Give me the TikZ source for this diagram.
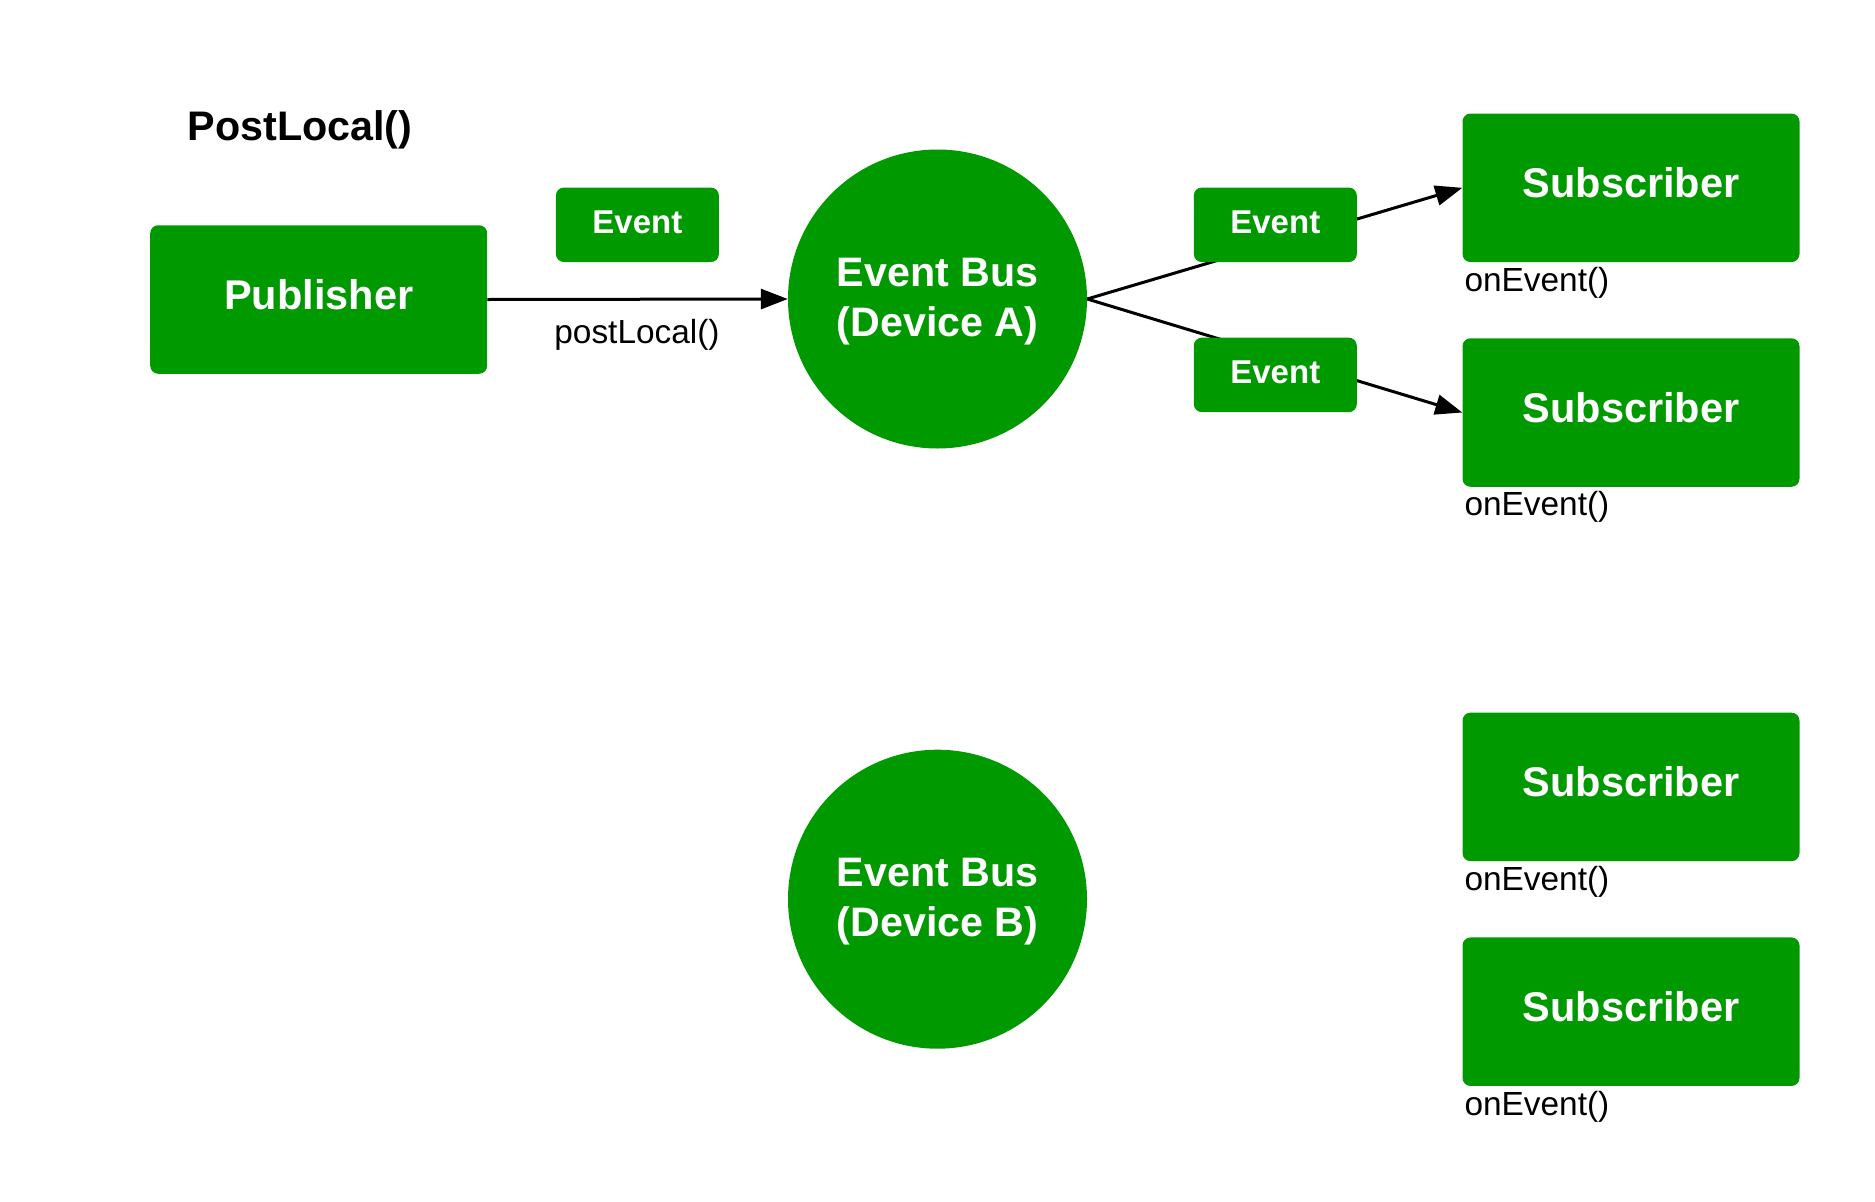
\documentclass[tikz,border=0pt]{standalone}
\usepackage{fontspec}
\setmainfont{Liberation Sans}
\usetikzlibrary{arrows.meta}
\definecolor{busgreen}{RGB}{0,153,0}
\pgfdeclarelayer{background}
\pgfsetlayers{background,main}
\newcommand{\buslabel}[2]{\raisebox{0pt}[\dimexpr\height+5pt\relax][\depth]{\begin{tabular}{@{}c@{}}#1\\#2\end{tabular}}}
\tikzset{
  box/.style={rectangle, rounded corners=8pt, fill=busgreen, text=white, inner sep=0pt,
    font=\bfseries\fontsize{41.5}{50}\selectfont},
  bigbox/.style={box, minimum width=337pt, minimum height=148.5pt, text depth=10pt},
  evbox/.style={box, minimum width=163pt, minimum height=74.5pt, text depth=5pt,
    font=\bfseries\fontsize{33}{40}\selectfont},
  bus/.style={circle, fill=busgreen, text=white, minimum size=299pt, inner sep=0pt,
    font=\bfseries\fontsize{41.2}{50}\selectfont},
  lbl/.style={inner sep=0pt, font=\fontsize{33.4}{40}\selectfont},
  conn/.style={line width=3pt, black},
  arr/.style={conn, -{Triangle[length=27pt,width=20pt]}}
}
\begin{document}
\begin{tikzpicture}[x=1pt,y=-1pt]
\useasboundingbox (0,0) rectangle (1875,1202);
\node[inner sep=0pt, font=\bfseries\fontsize{41.3}{50}\selectfont] (title) at (300,129.6) {PostLocal()};
\node[bigbox] (pub) at (318.7,299.5) {Publisher};
\node[evbox] (ev1) at (637.4,224.8) {Event};
\node[bus] (busA) at (937.5,299) {\buslabel{Event Bus}{(Device A)}};
\node[evbox] (ev2) at (1275.3,224.8) {Event};
\node[evbox] (ev3) at (1275.3,374.9) {Event};
\node[bigbox] (sub1) at (1631,187.8) {Subscriber};
\node[bigbox] (sub2) at (1631,412.5) {Subscriber};
\node[bigbox] (sub3) at (1631,786.9) {Subscriber};
\node[bigbox] (sub4) at (1631,1011.7) {Subscriber};
\node[bus] (busB) at (937.5,899.2) {\buslabel{Event Bus}{(Device B)}};
\node[lbl] (pl) at (637,334.8) {postLocal()};
\node[lbl, anchor=west] (on1) at ([xshift=2pt,yshift=-20.3pt]sub1.south west) {onEvent()};
\node[lbl, anchor=west] (on2) at ([xshift=2pt,yshift=-20.3pt]sub2.south west) {onEvent()};
\node[lbl, anchor=west] (on3) at ([xshift=2pt,yshift=-20.3pt]sub3.south west) {onEvent()};
\node[lbl, anchor=west] (on4) at ([xshift=2pt,yshift=-20.3pt]sub4.south west) {onEvent()};
\begin{pgfonlayer}{background}
\draw[arr] (pub.east) -- (busA.west);
\draw[arr] (busA.east) -- (sub1.west);
\draw[arr] (busA.east) -- (sub2.west);
\end{pgfonlayer}
\end{tikzpicture}
\end{document}
